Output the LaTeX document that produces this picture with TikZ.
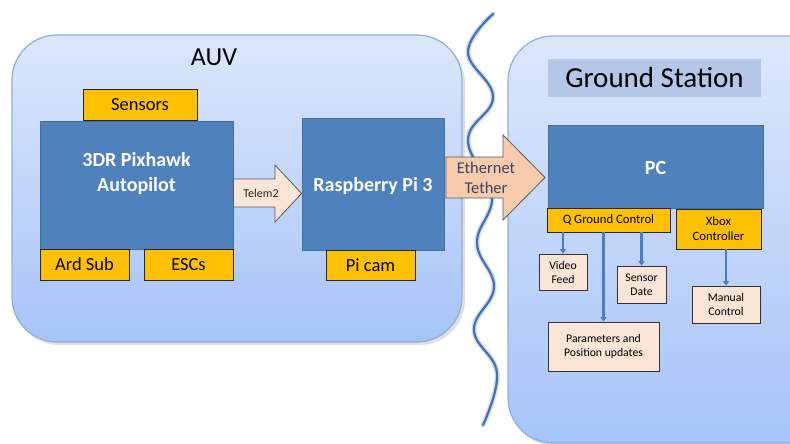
\documentclass[tikz,border=0pt]{standalone}
\usepackage{fontspec}
\setmainfont{Carlito}
\usetikzlibrary{arrows.meta,calc}
\definecolor{boxblue}{HTML}{4F81BD}
\definecolor{boxblueb}{HTML}{41719C}
\definecolor{yel}{HTML}{FFC000}
\definecolor{peach}{HTML}{FBE5D6}
\definecolor{peachd}{HTML}{F8CBAD}
\definecolor{ctop}{HTML}{DCE7FB}
\definecolor{cbot}{HTML}{A6C4F8}
\definecolor{cborder}{HTML}{8FAFDB}
\definecolor{titlebg}{HTML}{B4C7E7}
\definecolor{wavecol}{HTML}{3F73B5}
\definecolor{slate}{HTML}{36445F}
\definecolor{linkblue}{HTML}{4A7EBF}
\begin{document}
\begin{tikzpicture}[x=1pt,y=-1pt,
  container/.style={draw=cborder, line width=1.2pt, rounded corners=45pt, top color=ctop, bottom color=cbot, inner sep=0pt},
  bluebox/.style={draw=boxblueb, fill=boxblue, line width=0.8pt, inner sep=0pt},
  bluelabel/.style={text=white, font=\bfseries\fontsize{20}{25}\selectfont, align=center},
  yelbox/.style={draw=black!85, fill=yel, line width=0.8pt, inner sep=0pt, align=center},
  peachbox/.style={draw=black!80, fill=peach, line width=0.8pt, inner sep=0pt, align=center, font=\fontsize{11.7}{14}\selectfont},
  link/.style={draw=linkblue, line width=2.1pt, -{Triangle[length=4.5pt,width=6pt]}},
  blockarrow/.style={draw=black!65, line width=0.8pt, line join=miter}
]
\useasboundingbox (0,0) rectangle (790,444);
\clip (0,0) rectangle (790,444);

% containers
\fill[black, opacity=0.12, rounded corners=45pt] (14,38) rectangle (465,345);
\node[container, minimum width=450pt, minimum height=307pt] (auv) at (237,188.5) {};
\fill[black, opacity=0.12, rounded corners=45pt] (510,39) rectangle (842,446);
\node[container, minimum width=332pt, minimum height=407pt] (gs) at (674,239.5) {};

% titles
\node[font=\fontsize{26}{30}\selectfont] (auvtitle) at (214,57) {AUV};
\node[fill=titlebg, minimum width=213pt, minimum height=38pt, inner sep=0pt, font=\fontsize{29}{34}\selectfont] (gstitle) at (654.5,78) {Ground Station};

% wave
\draw[wavecol, line width=5pt, opacity=0.25, line cap=round]
  plot[smooth, tension=0.7] coordinates {(493,14) (468,52) (493,97) (468,140) (492,195) (477,243) (494,287) (474,330) (497,373) (483,425)};
\draw[wavecol, line width=2.2pt, line cap=round]
  plot[smooth, tension=0.7] coordinates {(493,14) (468,52) (493,97) (468,140) (492,195) (477,243) (494,287) (474,330) (497,373) (483,425)};

% AUV side
\node[bluebox, minimum width=193pt, minimum height=128pt] (pix) at (136.5,185) {};
\node[bluelabel] (pixlabel) at (136.5,174) {3DR Pixhawk\\Autopilot};
\node[yelbox, minimum width=114pt, minimum height=31pt, font=\fontsize{18.5}{22}\selectfont] (sensors) at (140,104.5) {Sensors};
\node[yelbox, minimum width=89pt, minimum height=31pt, font=\fontsize{18.5}{22}\selectfont] (ardsub) at (84.5,264.5) {Ard Sub};
\node[yelbox, minimum width=89pt, minimum height=31pt, font=\fontsize{18.5}{22}\selectfont] (escs) at (188.5,264.5) {ESCs};

\node[bluebox, minimum width=142pt, minimum height=132pt] (rpi) at (373,184) {};
\node[bluelabel] (rpilabel) at (373,186) {Raspberry Pi 3};
\node[yelbox, minimum width=89pt, minimum height=30pt, font=\fontsize{18.5}{22}\selectfont] (picam) at (370.5,265) {Pi cam};

% Telem2 block arrow
\draw[blockarrow, fill=peach] (pix.east |- 0,179) -- (275,179) -- (275,165) -- (rpi.west |- 0,193.5) -- (275,222) -- (275,207) -- (pix.east |- 0,207) -- cycle;
\node[font=\fontsize{12}{14}\selectfont, text=black!85] (telem) at (261,193) {Telem2};

% Ground station side
\node[bluebox, minimum width=215pt, minimum height=83pt] (pc) at (655.5,166.5) {};
\node[bluelabel] (pclabel) at (655.5,168) {PC};
\node[yelbox, minimum width=123pt, minimum height=24pt, font=\fontsize{12.7}{15}\selectfont] (qgc) at (608.5,220) {Q Ground Control};
\node[yelbox, minimum width=85pt, minimum height=40pt, font=\fontsize{12.7}{15}\selectfont] (xbox) at (718.5,229) {Xbox\\Controller};

% Ethernet block arrow
\draw[blockarrow, fill=peachd] (446,157) -- (503,157) -- (503,135) -- (545,177.5) -- (503,220) -- (503,198) -- (446,198) -- cycle;
\node[font=\fontsize{16.5}{20}\selectfont, text=slate, align=center] (eth) at (486,178) {Ethernet\\Tether};

\node[peachbox, minimum width=48pt, minimum height=36pt] (video) at (563,272) {Video\\Feed};
\node[peachbox, minimum width=49pt, minimum height=37pt] (sdate) at (641.5,284.5) {Sensor\\Date};
\node[peachbox, minimum width=68pt, minimum height=37pt] (manual) at (726,304.5) {Manual\\Control};
\node[peachbox, minimum width=111pt, minimum height=49pt] (params) at (603.5,346.5) {Parameters and\\Position updates};

\draw[link] (qgc.south -| video.north) -- (video.north);
\draw[link] (qgc.south -| params.north) -- (params.north);
\draw[link] (qgc.south -| sdate.north) -- (sdate.north);
\draw[link] (xbox.south -| manual.north) -- (manual.north);
\end{tikzpicture}
\end{document}
